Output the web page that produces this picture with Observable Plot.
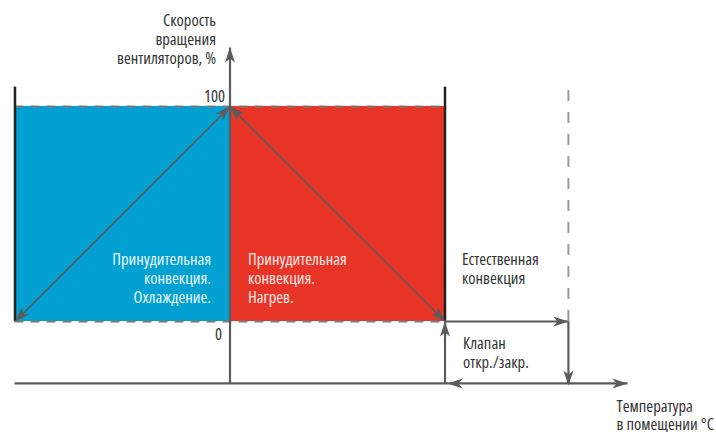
<!DOCTYPE html>
<html><head><meta charset="utf-8">
<script src="https://cdn.jsdelivr.net/npm/d3@7"></script>
<script src="https://cdn.jsdelivr.net/npm/@observablehq/plot@0.6"></script>
<style>
body{margin:0;background:#fff;}
svg{font-family:"Open Sans",sans-serif;font-stretch:75%;}
</style></head>
<body><div id="chart"></div>
<script>
// Zones (temperature axis in relative units: -1..0 cooling, 0..1 heating, >1 natural)
const zoneNames = ["cooling", "heating"];
const zoneStart = [-1, 0];
const zoneEnd = [0, 1];
const speedMin = 0, speedMax = 100;        // fan speed %
const frameTop = 109;                       // top of zone edges
const axisTop = 127.4;                      // y-axis arrow tip
const tempAxisLevel = -28.8;                // temperature axis position in % units
const naturalLimit = 1.574;                 // end of natural convection
const tempAxisEnd = 1.849;
const tickValues = [0, 100];
const tickLabels = ["0", "100"];

const yTitle = "Скорость\nвращения\nвентиляторов, %";
const xTitle = "Температура\nв помещении °C";
const coolingLabel = "Принудительная\nконвекция.\nОхлаждение.";
const heatingLabel = "Принудительная\nконвекция.\nНагрев.";
const naturalLabel = "Естественная\nконвекция";
const valveLabel = "Клапан\nоткр./закр.";

const zones = zoneNames.map((n, i) => ({mode: n, x1: zoneStart[i], x2: zoneEnd[i]}));

const segments = [
  {x1: 0, y1: speedMax, x2: -1, y2: speedMin},
  {x1: 0, y1: speedMax, x2: 1, y2: speedMin},
  {x1: 1, y1: speedMin, x2: naturalLimit, y2: speedMin},
  {x1: naturalLimit, y1: speedMin, x2: naturalLimit, y2: tempAxisLevel},
  {x1: 1, y1: tempAxisLevel, x2: 1, y2: speedMin},
  {x1: 0, y1: tempAxisLevel, x2: 0, y2: axisTop},
  {x1: -1.002, y1: tempAxisLevel, x2: tempAxisEnd, y2: tempAxisLevel}
];
const heads = [
  {x: 0, y: axisTop, dir: 0},
  {x: 0, y: speedMax, dir: 45},
  {x: 0, y: speedMax, dir: 315},
  {x: -1, y: speedMin, dir: 225},
  {x: 1, y: speedMin, dir: 135},
  {x: naturalLimit, y: speedMin, dir: 90},
  {x: naturalLimit, y: tempAxisLevel - 1, dir: 180},
  {x: 1, y: speedMin, dir: 0},
  {x: 1.012, y: tempAxisLevel, dir: 270},
  {x: tempAxisEnd, y: tempAxisLevel, dir: 90}
];

const headSymbol = {
  draw(ctx) {
    ctx.moveTo(0, 0);
    ctx.lineTo(5, 15);
    ctx.lineTo(0, 11);
    ctx.lineTo(-5, 15);
    ctx.closePath();
  }
};

const grey = "#5b5b5b";
const font = 16.5;
const lh = 1.16;

const chart = Plot.plot({
  width: 716,
  height: 432,
  margin: 0,
  x: {domain: [-1.0674, 2.2628], axis: null},
  y: {domain: [-51.63, 149.3], axis: null},
  color: {domain: zoneNames, range: ["#02a1d1", "#e83427"]},
  marks: [
    Plot.rect(zones, {x1: "x1", x2: "x2", y1: speedMin, y2: speedMax, fill: "mode"}),
    Plot.ruleY([speedMin, speedMax], {x1: -1, x2: 1, stroke: "#7a7a7a", strokeWidth: 2, strokeDasharray: "9,7"}),
    Plot.ruleX([naturalLimit], {y1: speedMin, y2: frameTop, stroke: "#9a9a9a", strokeWidth: 2, strokeDasharray: "11,11"}),
    Plot.ruleX([-1, 1], {y1: speedMin, y2: frameTop, stroke: "#222", strokeWidth: 2.5}),
    Plot.link(segments.slice(0, 2), {x1: "x1", y1: "y1", x2: "x2", y2: "y2", stroke: grey, strokeWidth: 1.6}),
    Plot.link(segments.slice(2), {x1: "x1", y1: "y1", x2: "x2", y2: "y2", stroke: grey, strokeWidth: 2.2}),
    Plot.dot(heads, {x: "x", y: "y", rotate: "dir", symbol: headSymbol, fill: grey, stroke: "none"}),
    Plot.text([tickValues[1]], {x: 0, y: d => d, text: () => tickLabels[1], textAnchor: "end", dx: -5, dy: -10, fontSize: font, fill: "#333"}),
    Plot.text([tickValues[0]], {x: 0, y: d => d, text: () => tickLabels[0], textAnchor: "end", dx: -8, dy: 13, fontSize: font, fill: "#333"}),
    Plot.text([yTitle], {x: 0, y: 131.4, text: d => d, textAnchor: "end", dx: -14, fontSize: font, lineHeight: lh, fill: "#333"}),
    Plot.text([xTitle], {x: 1.798, y: -43.6, text: d => d, textAnchor: "start", fontSize: font, lineHeight: 1.1, fill: "#333"}),
    Plot.text([coolingLabel], {x: 0, y: 20.2, text: d => d, textAnchor: "end", dx: -19, fontSize: font, lineHeight: lh, fill: "#e8f7fc"}),
    Plot.text([heatingLabel], {x: 0, y: 20.2, text: d => d, textAnchor: "start", dx: 18, fontSize: font, lineHeight: lh, fill: "#fde9e6"}),
    Plot.text([naturalLabel], {x: 1, y: 24.9, text: d => d, textAnchor: "start", dx: 17, fontSize: font, lineHeight: lh, fill: "#333"}),
    Plot.text([valveLabel], {x: 1, y: -14.2, text: d => d, textAnchor: "start", dx: 18, fontSize: font, lineHeight: lh, fill: "#333"})
  ]
});
document.getElementById("chart").appendChild(chart);
</script>
</body></html>
